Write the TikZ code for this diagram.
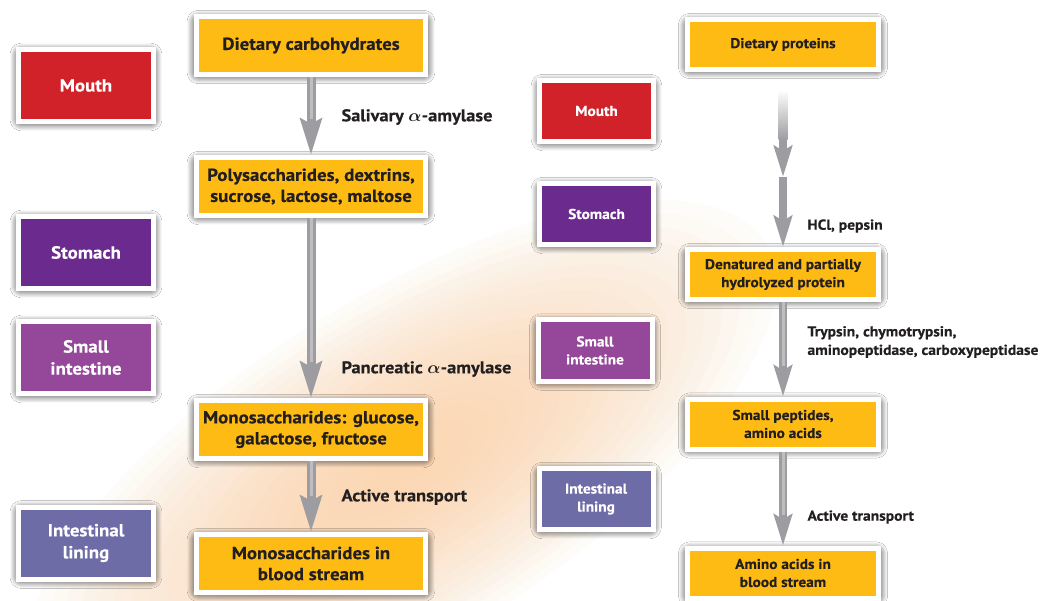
\documentclass[tikz,border=0pt]{standalone}
\usepackage{amsmath}
\usepackage{fontspec}
\setmainfont{PT Sans}[FakeStretch=1.08, BoldFeatures={FakeBold=0.35}]
\usetikzlibrary{arrows.meta,shadows.blur,calc}
\definecolor{yel}{HTML}{FDBB14}
\definecolor{mred}{HTML}{D1222A}
\definecolor{mpur}{HTML}{6B2A8D}
\definecolor{mvio}{HTML}{954799}
\definecolor{mlin}{HTML}{6D6CA7}
\definecolor{txt}{HTML}{231F20}
\definecolor{arrgray}{HTML}{9C9CA1}
\definecolor{glow}{HTML}{FBCB98}
\tikzset{
  box/.style={draw=white, line width=5pt, inner sep=0pt, align=center,
    blur shadow={shadow xshift=0pt, shadow yshift=-1.5pt, shadow blur radius=7pt, shadow opacity=80, shadow scale=1.02, shadow blur extra rounding=4pt, shadow blur steps=14}},
  ybig/.style={box, fill=yel, text=txt, minimum width=229pt, minimum height=58pt, font=\bfseries\fontsize{17.5}{21}\selectfont},
  ysmall/.style={box, fill=yel, text=txt, minimum width=191pt, minimum height=50pt, font=\bfseries\fontsize{14.2}{18}\selectfont},
  obig/.style={box, text=white, minimum width=135pt, minimum height=72pt, font=\bfseries\fontsize{17.5}{22}\selectfont},
  osmall/.style={box, text=white, minimum width=114pt, minimum height=61pt, font=\bfseries\fontsize{14.2}{18}\selectfont},
  lbig/.style={anchor=west, text=txt, font=\bfseries\fontsize{17}{20}\selectfont},
  lsmall/.style={anchor=west, text=txt, align=left, font=\bfseries\fontsize{14.4}{18.5}\selectfont},
  flow/.style={draw=arrgray, line width=9pt, -{Stealth[length=36pt, width=21pt, inset=5pt]}},
  flowsm/.style={draw=arrgray, line width=8.5pt, -{Stealth[length=31pt, width=18pt, inset=5pt]}},
  shine/.style={draw=white, line width=3pt, opacity=0.35, shorten >=36pt}
}
\begin{document}
\begin{tikzpicture}[x=1pt, y=-1pt]
\useasboundingbox (0,0) rectangle (1062,601);
\fill[white] (0,0) rectangle (1062,601);
% background glow
\begin{scope}
\clip (0,0) rectangle (1062,601);
\begin{scope}[shift={(400,470)}, rotate=32]
\foreach \i in {0,...,19}{
  \fill[glow, opacity=0.055] (0,0) ellipse [x radius={430*(1-\i/21)}, y radius={170*(1-\i/21)}];
}
\end{scope}
\end{scope}

% left column
\node[ybig] (dc) at (311,45.5) {Dietary carbohydrates};
\node[ybig] (poly) at (311,186.5) {Polysaccharides, dextrins,\\sucrose, lactose, maltose};
\node[ybig] (mono) at (311,429.5) {Monosaccharides: glucose,\\galactose, fructose};
\node[ybig] (blood) at (311,563.5) {Monosaccharides in\\blood stream};

\node[obig, fill=mred] (mouthL) at (86,85.5) {Mouth};
\node[obig, fill=mpur] (stomL) at (86,252.5) {Stomach};
\node[obig, fill=mvio] (siL) at (86,357.5) {Small\\intestine};
\node[obig, fill=mlin] (ilL) at (86,543) {Intestinal\\lining};

\draw[flow] (dc.south) -- (poly.north);
\draw[shine] (dc.south) -- (poly.north);
\draw[flow] (poly.south) -- (mono.north);
\draw[shine] (poly.south) -- (mono.north);
\draw[flow] (mono.south) -- (blood.north);
\draw[shine] (mono.south) -- (blood.north);

\node[lbig] (l1) at (338,117) {Salivary $\boldsymbol{\alpha}$-amylase};
\node[lbig] (l2) at (338,369) {Pancreatic $\boldsymbol{\alpha}$-amylase};
\node[lbig] (l3) at (338,497) {Active transport};

% right column
\node[ysmall] (dp) at (783,44.5) {Dietary proteins};
\node[ysmall] (den) at (783,274.5) {Denatured and partially\\hydrolyzed protein};
\node[ysmall] (sp) at (783,424) {Small peptides,\\amino acids};
\node[ysmall] (aa) at (783,573) {Amino acids in\\blood stream};

\node[osmall, fill=mred] (mouthR) at (596.5,111) {Mouth};
\node[osmall, fill=mpur] (stomR) at (596.5,214) {Stomach};
\node[osmall, fill=mvio] (siR) at (595,350.5) {Small\\intestine};
\node[osmall, fill=mlin] (ilR) at (596,499) {Intestinal\\lining};

\coordinate (p0) at ([yshift=-18pt]dp.south);
\coordinate (pm) at ($(dp.south)!0.6!(den.north)$);
\draw[flowsm] (pm) -- (den.north);
\draw[flowsm] (p0) -- (pm);
\shade[top color=white, bottom color=arrgray] ([xshift=-4.5pt]p0) rectangle ([xshift=4.5pt, yshift=-50pt]p0);
\draw[flowsm] (den.south) -- (sp.north);
\draw[shine, shorten >=31pt] (den.south) -- (sp.north);
\draw[flowsm] (sp.south) -- (aa.north);
\draw[shine, shorten >=31pt] (sp.south) -- (aa.north);

\node[lsmall] (r1) at (804,226) {HCl, pepsin};
\node[lsmall] (r2) at (804,342) {Trypsin, chymotrypsin,\\aminopeptidase, carboxypeptidase};
\node[lsmall] (r3) at (804,517) {Active transport};
\end{tikzpicture}
\end{document}
